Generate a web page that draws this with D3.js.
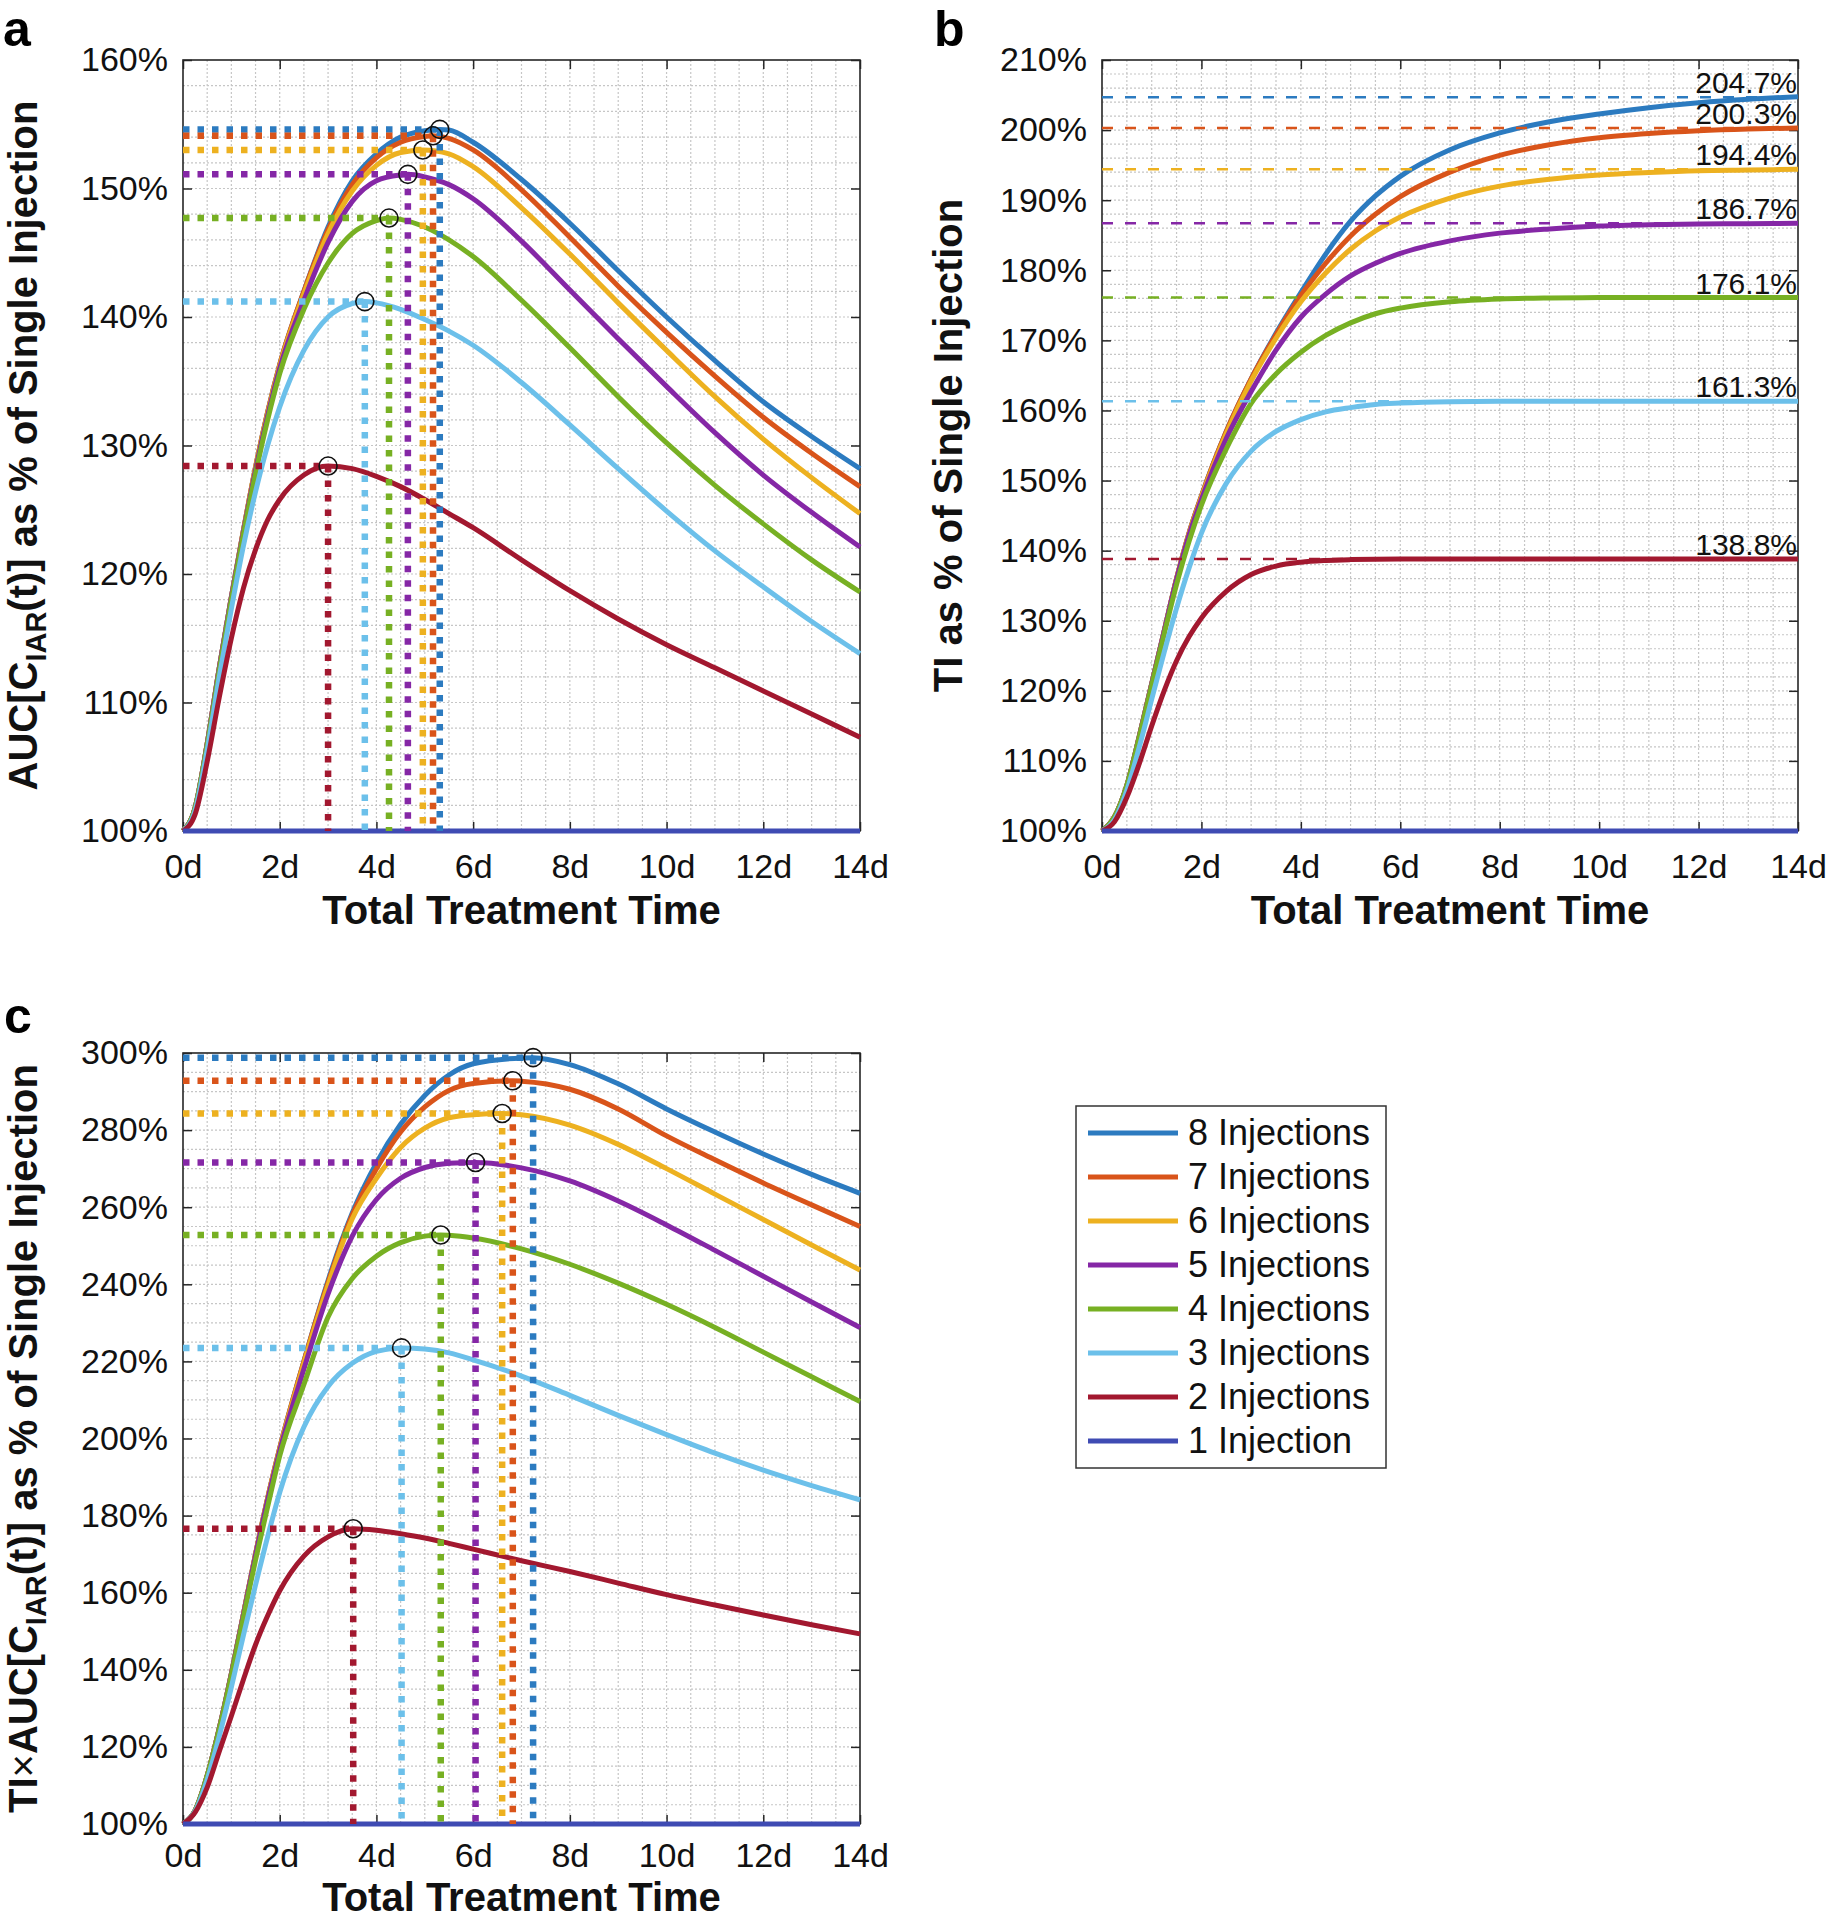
<!DOCTYPE html>
<html>
<head>
<meta charset="utf-8">
<script src="https://cdn.jsdelivr.net/npm/d3@7"></script>
<style>
  body { margin: 0; background: #fff; }
  text { font-family: "Liberation Sans", Arial, sans-serif; }
</style>
</head>
<body>
<svg id="fig" width="1827" height="1920"></svg>
<script>
// ---- data ----
var seriesNames = ["8 Injections", "7 Injections", "6 Injections", "5 Injections",
                   "4 Injections", "3 Injections", "2 Injections", "1 Injection"];
var seriesColors = ["#2c7bc0", "#d9541a", "#edb120", "#8527a6", "#77b023", "#6cc0ea", "#a2182f", "#3f4bb3"];

var xTicks = [0, 2, 4, 6, 8, 10, 12, 14];
var aucTicks = [100, 110, 120, 130, 140, 150, 160];
var tiTicks = [100, 110, 120, 130, 140, 150, 160, 170, 180, 190, 200, 210];
var tiAucTicks = [100, 120, 140, 160, 180, 200, 220, 240, 260, 280, 300];

var days = [0, 0.25, 0.5, 0.75, 1, 1.25, 1.5, 1.75, 2, 2.5, 3, 3.5, 4, 4.5, 5, 5.5, 6, 7, 8, 9, 10, 11, 12, 13, 14];

// panel a: AUC[C_IAR(t)] (%), series 8 .. 2 injections
var aucValues = [
  [100, 101.8, 106.8, 112.7, 118.2, 123.4, 128.3, 132.6, 136.3, 142.0, 147.0, 150.6, 152.7, 154.0, 154.5, 154.55, 153.6, 150.7, 147.3, 143.6, 140.0, 136.6, 133.4, 130.7, 128.2],
  [100, 101.8, 106.8, 112.7, 118.2, 123.4, 128.3, 132.6, 136.3, 142.0, 146.8, 150.3, 152.4, 153.6, 154.05, 153.9, 153.0, 149.9, 146.2, 142.4, 138.8, 135.4, 132.2, 129.4, 126.8],
  [100, 101.8, 106.8, 112.7, 118.2, 123.4, 128.3, 132.5, 136.2, 141.8, 146.5, 149.8, 151.8, 152.8, 152.95, 152.7, 151.7, 148.5, 144.9, 141.1, 137.4, 133.8, 130.5, 127.5, 124.7],
  [100, 101.8, 106.8, 112.7, 118.2, 123.3, 128.1, 132.3, 136.0, 141.3, 145.8, 149.0, 150.6, 151.05, 150.9, 150.3, 149.2, 145.9, 142.1, 138.3, 134.6, 131.0, 127.7, 124.8, 122.1],
  [100, 101.8, 106.7, 112.5, 118.0, 123.1, 127.8, 132.0, 135.6, 140.6, 144.2, 146.5, 147.5, 147.6, 147.0, 146.0, 144.7, 141.3, 137.6, 133.8, 130.2, 126.9, 123.9, 121.1, 118.6],
  [100, 101.6, 106.3, 112.0, 117.3, 122.2, 126.4, 130.0, 133.0, 137.4, 140.0, 141.05, 141.1, 140.6, 139.8, 138.9, 137.8, 134.9, 131.6, 128.2, 124.9, 121.8, 119.0, 116.3, 113.8],
  [100, 101.3, 105.4, 110.4, 115.0, 118.9, 121.9, 124.2, 125.8, 127.7, 128.4, 128.2, 127.6, 126.8, 125.8, 124.7, 123.6, 121.1, 118.7, 116.5, 114.5, 112.7, 110.9, 109.1, 107.3]
];
var aucPeakDays = [5.31, 5.17, 4.96, 4.65, 4.26, 3.76, 3.0];
var aucPeakValues = [154.6, 154.1, 153.0, 151.1, 147.7, 141.2, 128.4];

// panel b: TI (%), series 8 .. 2 injections
var tiValues = [
  [100, 102.0, 106.5, 113.5, 121.0, 128.5, 136.0, 142.5, 147.8, 157.0, 164.5, 171.0, 176.8, 182.3, 187.0, 190.6, 193.4, 197.2, 199.6, 201.2, 202.3, 203.2, 203.9, 204.4, 204.75],
  [100, 102.0, 106.5, 113.5, 121.0, 128.5, 136.0, 142.5, 147.8, 157.0, 164.5, 170.8, 176.4, 181.0, 184.9, 188.0, 190.5, 194.0, 196.4, 197.9, 198.9, 199.5, 199.9, 200.15, 200.3],
  [100, 102.0, 106.5, 113.5, 121.0, 128.5, 136.0, 142.4, 147.6, 156.7, 164.2, 170.3, 175.5, 179.6, 183.0, 185.6, 187.6, 190.3, 192.0, 193.0, 193.6, 193.95, 194.2, 194.3, 194.4],
  [100, 102.0, 106.5, 113.5, 121.0, 128.5, 135.9, 142.2, 147.3, 156.0, 162.7, 168.6, 173.3, 176.6, 179.2, 181.0, 182.4, 184.2, 185.3, 185.9, 186.3, 186.5, 186.6, 186.65, 186.7],
  [100, 102.0, 106.5, 113.4, 120.8, 128.1, 135.2, 141.3, 146.5, 154.5, 161.0, 165.2, 168.3, 170.7, 172.5, 173.8, 174.6, 175.5, 175.9, 176.05, 176.1, 176.1, 176.1, 176.1, 176.1],
  [100, 101.6, 105.8, 112.0, 118.8, 125.5, 131.8, 137.5, 142.5, 149.6, 154.2, 157.0, 158.7, 159.8, 160.4, 160.85, 161.05, 161.25, 161.3, 161.3, 161.3, 161.3, 161.3, 161.3, 161.3],
  [100, 101.3, 104.8, 109.6, 115.0, 120.0, 124.3, 127.7, 130.4, 134.2, 136.6, 137.8, 138.35, 138.6, 138.72, 138.78, 138.8, 138.8, 138.8, 138.8, 138.8, 138.8, 138.8, 138.8, 138.8]
];
var tiPlateaus = [204.7, 200.3, 194.4, 186.7, 176.1, 161.3, 138.8];

// panel c: TI x AUC[C_IAR(t)] (%), series 8 .. 2 injections
var tiAucValues = [
  [100, 103.5, 112.5, 124.8, 139.0, 154.5, 170.0, 184.5, 197.5, 220.0, 241.0, 258.5, 271.5, 281.5, 289.0, 294.3, 297.2, 298.7, 297.0, 292.0, 285.5, 279.5, 273.8, 268.5, 263.6],
  [100, 103.5, 112.5, 124.8, 139.0, 154.5, 170.0, 184.5, 197.5, 220.0, 240.5, 258.0, 270.0, 279.5, 286.0, 290.3, 292.1, 292.7, 290.6, 285.5, 278.5, 272.3, 266.3, 260.6, 255.0],
  [100, 103.5, 112.5, 124.8, 139.0, 154.5, 170.0, 184.5, 197.3, 219.5, 239.8, 257.0, 267.5, 275.5, 280.5, 283.2, 284.0, 284.0, 281.3, 276.3, 270.0, 263.4, 256.8, 250.2, 243.7],
  [100, 103.5, 112.5, 124.8, 139.0, 154.3, 169.7, 184.0, 196.8, 218.0, 237.5, 252.5, 262.0, 267.5, 270.3, 271.4, 271.6, 270.2, 266.8, 261.6, 255.4, 248.8, 242.1, 235.4, 228.8],
  [100, 103.5, 112.5, 124.6, 138.6, 153.6, 168.5, 182.3, 195.5, 214.0, 231.5, 241.5, 247.3, 250.8, 252.5, 252.7, 252.0, 249.2, 245.2, 240.3, 234.8, 228.8, 222.4, 216.0, 209.6],
  [100, 103.3, 111.5, 122.8, 135.5, 149.0, 162.0, 174.5, 186.0, 203.0, 213.5, 219.5, 222.6, 223.5, 223.2, 222.2, 220.4, 216.2, 211.2, 206.0, 201.0, 196.2, 191.8, 187.8, 184.1],
  [100, 103.0, 109.5, 118.8, 128.0, 137.5, 146.5, 154.0, 160.5, 169.5, 174.5, 176.6, 176.2, 175.3, 174.2, 172.8, 171.3, 168.3, 165.5, 162.5, 159.5, 156.8, 154.2, 151.7, 149.3]
];
var tiAucPeakDays = [7.24, 6.82, 6.6, 6.05, 5.33, 4.52, 3.52];
var tiAucPeakValues = [298.8, 292.8, 284.3, 271.6, 252.8, 223.5, 176.6];

var singleDays = [0, 14];
var singleValues = [100, 100];

// ---- drawing ----
var svg = d3.select('#fig');
var gridColor = '#c6c6c6';
var axisColor = '#262626';

function seriesPoints(values, peakDay, peakValue) {
  var pts = [];
  days.forEach(function (d, i) {
    if (peakDay === undefined || Math.abs(d - peakDay) > 0.06) pts.push([d, values[i]]);
  });
  if (peakDay !== undefined) pts.push([peakDay, peakValue]);
  return pts.sort(function (a, b) { return a[0] - b[0]; });
}

function drawPanel(cfg) {
  var x = d3.scaleLinear().domain([0, 14]).range([cfg.left, cfg.right]);
  var y = d3.scaleLinear().domain([cfg.yTicks[0], cfg.yTicks[cfg.yTicks.length - 1]]).range([cfg.bottom, cfg.top]);
  var g = svg.append('g');

  // dotted grid (major + minor)
  var xGrid = d3.range(0.5, 14, 0.5);
  var yGrid = d3.range(y.domain()[0] + cfg.yMinorStep, y.domain()[1] - 0.001, cfg.yMinorStep);
  g.append('g').selectAll('line').data(xGrid).join('line')
    .attr('x1', function (d) { return x(d); }).attr('x2', function (d) { return x(d); })
    .attr('y1', cfg.top).attr('y2', cfg.bottom);
  g.append('g').selectAll('line').data(yGrid).join('line')
    .attr('y1', function (d) { return y(d); }).attr('y2', function (d) { return y(d); })
    .attr('x1', cfg.left).attr('x2', cfg.right);
  g.selectAll('line').attr('stroke', gridColor).attr('stroke-width', 1.2).attr('stroke-dasharray', '2 2');

  // axes: ticks inward on all four sides
  var ax = [
    g.append('g').attr('transform', 'translate(0,' + cfg.bottom + ')')
      .call(d3.axisBottom(x).tickValues(xTicks).tickFormat(function (d) { return d + 'd'; })
        .tickSizeInner(-9).tickSizeOuter(0).tickPadding(cfg.xTickPad)),
    g.append('g').attr('transform', 'translate(' + cfg.left + ',0)')
      .call(d3.axisLeft(y).tickValues(cfg.yTicks).tickFormat(function (d) { return d + '%'; })
        .tickSizeInner(-9).tickSizeOuter(0).tickPadding(15)),
    g.append('g').attr('transform', 'translate(0,' + cfg.top + ')')
      .call(d3.axisTop(x).tickValues(xTicks).tickFormat('').tickSizeInner(-9).tickSizeOuter(0)),
    g.append('g').attr('transform', 'translate(' + cfg.right + ',0)')
      .call(d3.axisRight(y).tickValues(cfg.yTicks).tickFormat('').tickSizeInner(-9).tickSizeOuter(0))
  ];
  ax.forEach(function (a) {
    a.select('.domain').remove();
    a.selectAll('line').attr('stroke', axisColor).attr('stroke-width', 1.5);
    a.selectAll('text').attr('font-size', 34).attr('fill', '#111')
      .attr('font-family', '"Liberation Sans", Arial, sans-serif');
  });
  g.append('rect').attr('x', cfg.left).attr('y', cfg.top)
    .attr('width', cfg.right - cfg.left).attr('height', cfg.bottom - cfg.top)
    .attr('fill', 'none').attr('stroke', axisColor).attr('stroke-width', 1.6);

  var line = d3.line().x(function (d) { return x(d[0]); }).y(function (d) { return y(d[1]); })
    .curve(d3.curveMonotoneX);

  var curves = g.append('g');
  cfg.values.forEach(function (vals, i) {
    var pd = cfg.peakDays ? cfg.peakDays[i] : undefined;
    var pv = cfg.peakValues ? cfg.peakValues[i] : undefined;
    curves.append('path').datum(seriesPoints(vals, pd, pv))
      .attr('d', line).attr('fill', 'none').attr('stroke', seriesColors[i])
      .attr('stroke-width', 5).attr('stroke-linejoin', 'round');
  });
  curves.append('path').datum(d3.zip(singleDays, singleValues))
    .attr('d', line).attr('fill', 'none').attr('stroke', seriesColors[7]).attr('stroke-width', 5);

  if (cfg.peakDays) {
    var guides = g.append('g').attr('fill', 'none').attr('stroke-width', 6.5).attr('stroke-dasharray', '6.5 8');
    cfg.peakDays.forEach(function (pd, i) {
      var pv = cfg.peakValues[i];
      guides.append('line').attr('stroke', seriesColors[i])
        .attr('x1', x(0)).attr('x2', x(pd)).attr('y1', y(pv)).attr('y2', y(pv));
      guides.append('line').attr('stroke', seriesColors[i])
        .attr('x1', x(pd)).attr('x2', x(pd)).attr('y1', y(pv)).attr('y2', y(100));
    });
    g.append('g').selectAll('circle').data(cfg.peakDays).join('circle')
      .attr('cx', function (d) { return x(d); })
      .attr('cy', function (d, i) { return y(cfg.peakValues[i]); })
      .attr('r', 9).attr('fill', 'none').attr('stroke', '#111').attr('stroke-width', 1.6);
  }

  // panel b reference lines go on top of the curves
  if (cfg.plateaus) {
    var ref = g.append('g');
    cfg.plateaus.forEach(function (v, i) {
      ref.append('line').attr('x1', x(0)).attr('x2', x(14)).attr('y1', y(v)).attr('y2', y(v))
        .attr('stroke', seriesColors[i]).attr('stroke-width', 2.5).attr('stroke-dasharray', '11 12');
      ref.append('text').attr('x', x(14) - 1).attr('y', y(v) - 4).attr('text-anchor', 'end')
        .attr('font-size', 30).attr('fill', '#111').text(v.toFixed(1) + '%');
    });
  }

  // x title
  g.append('text').attr('x', (cfg.left + cfg.right) / 2).attr('y', cfg.bottom + cfg.xTitleGap)
    .attr('text-anchor', 'middle').attr('font-size', 40).attr('font-weight', 'bold')
    .attr('fill', '#111').text('Total Treatment Time');

  // y title
  var yt = g.append('text')
    .attr('transform', 'translate(' + cfg.yTitleX + ',' + (cfg.top + cfg.bottom) / 2 + ') rotate(-90)')
    .attr('text-anchor', 'middle').attr('font-size', 40).attr('font-weight', 'bold').attr('fill', '#111');
  cfg.yTitle(yt);

  // panel letter
  svg.append('text').attr('x', cfg.letterX).attr('y', cfg.letterY)
    .attr('font-size', 50).attr('font-weight', 'bold').attr('fill', '#000').text(cfg.letter);
}

function aucTitle(t, prefix) {
  if (prefix) {
    t.append('tspan').text('TI');
    t.append('tspan').attr('font-weight', 'normal').text('\u00d7');
  }
  t.append('tspan').text('AUC[C');
  t.append('tspan').attr('font-size', 29).attr('dy', 9).text('IAR');
  t.append('tspan').attr('dy', -9).text('(t)] as % of Single Injection');
}

drawPanel({
  left: 183, right: 860, top: 60, bottom: 831, xTickPad: 23, xTitleGap: 93,
  yTicks: aucTicks, yMinorStep: 2,
  values: aucValues, peakDays: aucPeakDays, peakValues: aucPeakValues,
  yTitleX: 37, yTitle: function (t) { aucTitle(t, false); },
  letter: 'a', letterX: 3, letterY: 46
});

drawPanel({
  left: 1102, right: 1798, top: 60, bottom: 831, xTickPad: 23, xTitleGap: 93,
  yTicks: tiTicks, yMinorStep: 2,
  values: tiValues, plateaus: tiPlateaus,
  yTitleX: 962, yTitle: function (t) { t.text('TI as % of Single Injection'); },
  letter: 'b', letterX: 934, letterY: 46
});

drawPanel({
  left: 183, right: 860, top: 1053, bottom: 1824, xTickPad: 19, xTitleGap: 87.3,
  yTicks: tiAucTicks, yMinorStep: 5,
  values: tiAucValues, peakDays: tiAucPeakDays, peakValues: tiAucPeakValues,
  yTitleX: 37, yTitle: function (t) { aucTitle(t, true); },
  letter: 'c', letterX: 4, letterY: 1033
});

// legend
var legend = svg.append('g');
legend.append('rect').attr('x', 1076).attr('y', 1106).attr('width', 310).attr('height', 362)
  .attr('fill', '#fff').attr('stroke', '#333').attr('stroke-width', 1.5);
var rows = legend.selectAll('g.row').data(seriesNames).join('g').attr('class', 'row')
  .attr('transform', function (d, i) { return 'translate(0,' + (1133 + i * 44) + ')'; });
rows.append('line').attr('x1', 1088).attr('x2', 1178).attr('y1', 0).attr('y2', 0)
  .attr('stroke', function (d, i) { return seriesColors[i]; }).attr('stroke-width', 5);
rows.append('text').attr('x', 1188).attr('y', 12).attr('font-size', 36).attr('fill', '#111')
  .text(function (d) { return d; });
</script>
</body>
</html>
